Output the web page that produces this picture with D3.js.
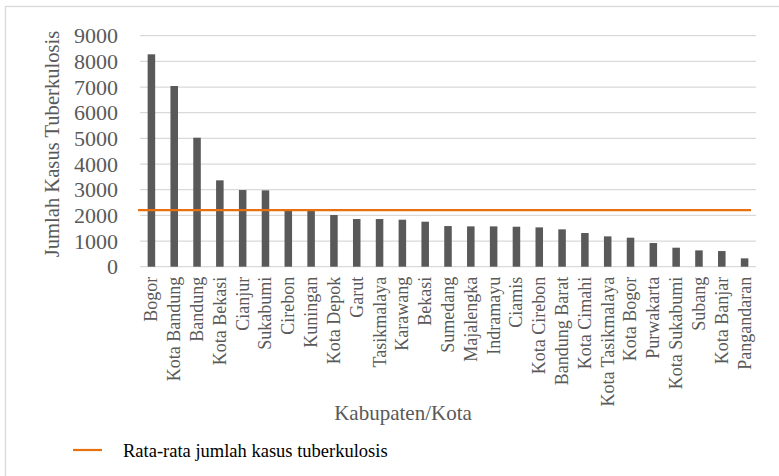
<!DOCTYPE html>
<html>
<head>
<meta charset="utf-8">
<script src="https://cdn.jsdelivr.net/npm/d3@7"></script>
<style>
  body { margin: 0; background: #fff; }
  svg text { font-family: "Liberation Serif", "Times New Roman", serif; }
</style>
</head>
<body>
<div id="chart"></div>
<script>
// data
var categories = ["Bogor", "Kota Bandung", "Bandung", "Kota Bekasi", "Cianjur", "Sukabumi",
  "Cirebon", "Kuningan", "Kota Depok", "Garut", "Tasikmalaya", "Karawang", "Bekasi",
  "Sumedang", "Majalengka", "Indramayu", "Ciamis", "Kota Cirebon", "Bandung Barat",
  "Kota Cimahi", "Kota Tasikmalaya", "Kota Bogor", "Purwakarta", "Kota Sukabumi",
  "Subang", "Kota Banjar", "Pangandaran"];
var kasus = [8275, 7040, 5025, 3365, 2987, 2975, 2247, 2182, 2013, 1857, 1857, 1831, 1753,
  1584, 1571, 1571, 1558, 1532, 1455, 1312, 1182, 1130, 922, 740, 636, 610, 325];
var yTicks = [0, 1000, 2000, 3000, 4000, 5000, 6000, 7000, 8000, 9000];
var legendLabel = "Rata-rata jumlah kasus tuberkulosis";

var width = 779, height = 476;
var margin = {top: 35.7, right: 23, bottom: 209.3, left: 140};
var plotW = width - margin.left - margin.right;
var plotH = height - margin.top - margin.bottom;

var svg = d3.select("#chart").append("svg")
  .attr("width", width).attr("height", height);

// chart area border
svg.append("rect")
  .attr("x", 5.5).attr("y", 6.5)
  .attr("width", 900).attr("height", 600)
  .attr("fill", "none").attr("stroke", "#d9d9d9").attr("stroke-width", 1.3);

var xs = d3.scaleBand().domain(categories).range([0, plotW]).paddingInner(0.67).paddingOuter(0.335);
var ys = d3.scaleLinear().domain([0, 9000]).range([plotH, 0]);

var g = svg.append("g").attr("transform", "translate(" + margin.left + "," + margin.top + ")");

// gridlines
g.selectAll("line.grid").data(yTicks).enter().append("line")
  .attr("class", "grid")
  .attr("x1", 0).attr("x2", plotW)
  .attr("y1", function(d){ return ys(d); })
  .attr("y2", function(d){ return ys(d); })
  .attr("stroke", "#d9d9d9").attr("stroke-width", 1.3);

// y tick labels
g.selectAll("text.ytick").data(yTicks).enter().append("text")
  .attr("class", "ytick")
  .attr("x", -22).attr("y", function(d){ return ys(d); })
  .attr("dy", "0.34em")
  .attr("text-anchor", "end")
  .attr("font-size", "22px").attr("fill", "#595959")
  .text(function(d){ return d; });

// bars
g.selectAll("rect.bar").data(kasus).enter().append("rect")
  .attr("class", "bar")
  .attr("x", function(d, i){ return xs(categories[i]); })
  .attr("width", xs.bandwidth())
  .attr("y", function(d){ return ys(d); })
  .attr("height", function(d){ return plotH - ys(d); })
  .attr("fill", "#595959");

// x tick labels
g.selectAll("text.xtick").data(categories).enter().append("text")
  .attr("class", "xtick")
  .attr("transform", function(d){
    return "translate(" + (xs(d) + xs.bandwidth() / 2) + "," + (plotH + 10) + ") rotate(-90)";
  })
  .attr("dy", "0.33em")
  .attr("text-anchor", "end")
  .attr("font-size", "18px").attr("fill", "#595959")
  .text(function(d){ return d; });

// average line
var rata = d3.mean(kasus);
g.append("line")
  .attr("x1", -2).attr("x2", plotW - 5)
  .attr("y1", ys(rata)).attr("y2", ys(rata))
  .attr("stroke", "#e8700f").attr("stroke-width", 2.2);

// axis titles
svg.append("text")
  .attr("transform", "translate(52,144) rotate(-90)")
  .attr("dy", "0.33em")
  .attr("text-anchor", "middle")
  .attr("font-size", "20.6px").attr("fill", "#595959")
  .text("Jumlah Kasus Tuberkulosis");

svg.append("text")
  .attr("x", 403).attr("y", 413).attr("dy", "0.33em")
  .attr("text-anchor", "middle")
  .attr("font-size", "21px").attr("fill", "#595959")
  .text("Kabupaten/Kota");

// legend
svg.append("line")
  .attr("x1", 73).attr("x2", 102).attr("y1", 450).attr("y2", 450)
  .attr("stroke", "#e8700f").attr("stroke-width", 2.2);
svg.append("text")
  .attr("x", 123).attr("y", 451).attr("dy", "0.33em")
  .attr("font-size", "18.5px").attr("fill", "#000")
  .text(legendLabel);
</script>
</body>
</html>
